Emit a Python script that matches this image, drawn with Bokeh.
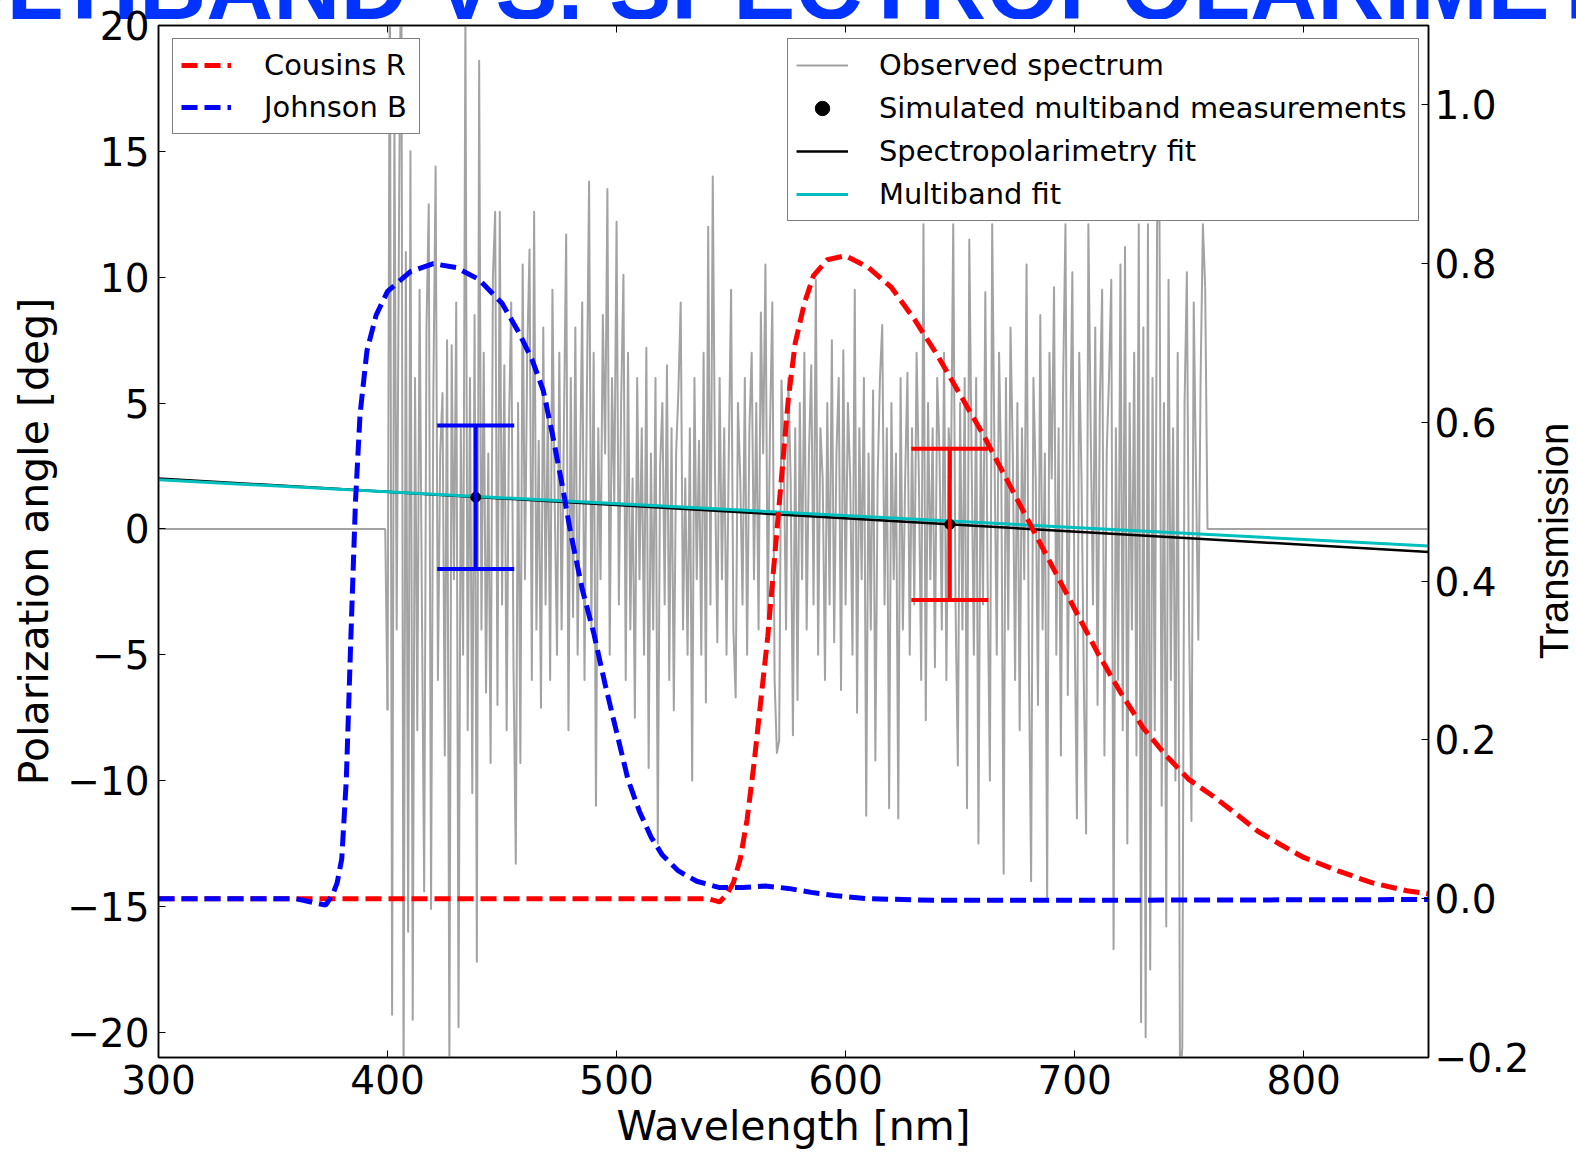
import math
from bokeh.plotting import figure
from bokeh.layouts import column, row
from bokeh.models import (Range1d, LinearAxis, FixedTicker, CustomJSTickFormatter,
                          Legend, LegendItem, Div)
from bokeh.embed import file_html
from bokeh.resources import INLINE

FONT = "DejaVu Sans"

# ---------------- data ----------------
x_ticks = [300, 400, 500, 600, 700, 800]
pa_ticks = [-20, -15, -10, -5, 0, 5, 10, 15, 20]
tr_ticks = [-0.2, 0.0, 0.2, 0.4, 0.6, 0.8, 1.0]

# observed polarization angle spectrum, 1 nm steps starting at 400 nm
obs_start = 400
obs_pa = [
    -7.2, 23.0, -19.3, 16.5, -4.0, 12.0, 25.0, -22.5, 11.0, -16.0,
    15.0, -19.5, 6.0, -8.0, 9.5, -3.0, -14.4, 8.0, 12.9, -15.1,
    5.4, 14.4, -6.0, 3.0, 5.4, -9.0, 7.5, -21.5, 7.3, -2.0,
    9.0, -19.8, 4.0, -5.0, 20.5, -8.0, 6.0, -10.5, 8.5, -17.2,
    18.6, -4.0, 7.0, -6.5, 3.0, -9.3, 10.0, 12.6, -7.0, 12.6,
    -3.0, 6.5, -8.0, 4.0, 9.0, -5.5, -13.3, 5.0, -9.3, 10.5,
    -2.0, 7.0, 11.1, -6.0, 12.6, -4.0, 3.5, -7.1, 8.0, -3.0,
    5.0, -6.0, 9.5, 1.0, -5.0, 7.0, -4.0, 4.0, 11.7, -8.0,
    6.0, -3.5, 8.0, -5.0, 2.0, 9.0, -6.0, 5.0, 13.8, -4.0,
    7.0, -11.0, 4.0, -2.0, 8.5, 3.0, 13.5, -5.0, 6.0, 1.0,
    12.2, -3.0, 5.0, 10.1, -6.0, 7.0, -4.0, 2.0, -7.5, 6.0,
    -2.0, 4.0, -5.0, 7.2, -9.5, 3.0, -4.0, 6.0, -12.5, 2.5,
    5.0, -3.0, 6.5, -6.0, 4.0, -7.2, 3.0, 5.5, 9.0, -4.0,
    2.0, -5.0, 4.0, -10.0, 6.0, -2.0, 3.5, -5.0, 7.0, -6.9,
    12.0, -3.0, 14.0, 2.0, -4.5, 6.0, -2.0, 4.0, -5.0, 3.0,
    9.5, -4.0, -6.7, 5.0, 2.0, -3.0, 6.0, -5.0, 4.0, 7.0,
    -2.0, 5.0, -4.0, 8.6, 3.0, 10.5, -3.5, 4.0, 9.0, -6.0,
    -8.9, -8.4, 5.9, 3.0, -4.0, 6.0, 2.0, -8.2, 4.0, -6.8,
    5.0, -2.0, 7.0, -4.0, 3.0, 6.5, -3.0, 9.9, -5.0, 4.0,
    2.0, -6.0, 5.0, -3.0, 7.5, -4.5, 3.0, 6.0, -6.4, 7.1,
    -3.0, 5.0, 2.0, -5.0, 9.5, -7.3, 4.0, -2.0, 6.0, -11.4,
    3.0, -4.0, 5.5, -9.2, 2.0, 6.0, 8.1, -3.0, 4.0, -11.1,
    5.0, -2.0, 3.0, -11.5, 6.0, -4.0, 2.0, 6.2, -5.0, 4.0,
    -3.0, 7.0, 2.0, -6.0, 12.1, -7.6, 5.0, -2.0, 4.0, -5.5,
    6.0, 3.0, -4.0, 7.0, -6.0, 4.0, 2.0, 12.1, -3.0, -9.4,
    5.0, -4.0, 6.0, -11.1, 11.5, 3.0, -5.0, 6.0, -12.5, 4.0,
    -3.0, 9.4, -2.0, -10.0, 12.1, 3.0, -5.0, 7.0, 2.0, -13.7,
    6.0, -4.0, 8.0, 3.0, -6.0, 5.0, -8.0, 4.0, -2.0, 10.5,
    -5.0, -14.0, 6.0, 2.0, -7.0, 8.5, -4.0, 3.0, -14.8, 7.0,
    2.0, 9.6, -5.0, 4.0, -9.0, 6.0, 12.1, -6.6, 3.0, 10.2,
    -4.0, -11.5, 7.0, 2.0, -6.0, -12.1, 12.1, 4.0, -3.0, 8.0,
    -7.0, 5.0, 9.5, -9.0, 3.0, 6.0, 9.9, -16.7, 4.0, -6.0,
    10.5, -8.0, 11.2, -12.5, 5.0, -4.0, 7.0, -9.0, 12.1, -19.6,
    8.0, -20.2, 12.1, -17.5, 6.0, -8.0, 12.1, 13.5, -11.0, 5.0,
    -15.8, 9.9, -6.0, 4.0, -10.0, 7.0, -22.0, -20.6, 5.0, 10.2,
    -4.0, -11.6, 9.0, 2.0, -4.4, 6.0, 12.1, 9.6,
]
obs_wl = [obs_start + i for i in range(len(obs_pa))]
# flat (zero) parts of the observed spectrum outside the covered range
blank_left_wl = [300, 399]
blank_right_wl = [758, 855]
blank_pa = [0.0, 0.0]

# linear fits
fit_wl = [300, 855]
spec_fit_pa = [2.0, -0.92]
mb_fit_pa = [1.95, -0.68]

# simulated multiband measurements
meas_band = ["Johnson B", "Cousins R"]
meas_wl = [438.5, 645.5]
meas_pa = [1.26, 0.18]
meas_err = [2.85, 3.0]

# filter transmission curves
rband_wl = [300, 540, 545, 548, 551, 554, 557, 560, 563, 566, 569, 572, 575, 578, 582,
            586, 592, 600, 610, 620, 630, 640, 650, 660, 670, 680, 690, 700, 710, 720,
            730, 740, 750, 760, 770, 780, 790, 800, 815, 830, 845, 855]
rband_t = [0.0, 0.0, -0.004, 0.005, 0.02, 0.05, 0.10, 0.17, 0.25, 0.33, 0.43, 0.53, 0.63,
           0.70, 0.75, 0.785, 0.805, 0.81, 0.795, 0.77, 0.73, 0.685, 0.635, 0.585, 0.53,
           0.475, 0.42, 0.365, 0.31, 0.26, 0.215, 0.18, 0.15, 0.13, 0.108, 0.085, 0.068,
           0.052, 0.035, 0.02, 0.01, 0.006]
bband_wl = [300, 360, 368, 373, 376, 378, 380, 382, 384, 386, 388, 391, 395, 400, 410,
            420, 430, 440, 450, 457, 463, 468, 472, 476, 480, 485, 490, 495, 500, 505,
            510, 515, 520, 527, 535, 545, 555, 565, 575, 585, 595, 610, 640, 700, 855]
bband_t = [0.0, 0.0, -0.005, -0.008, 0.005, 0.02, 0.05, 0.15, 0.33, 0.50, 0.61, 0.69,
           0.735, 0.765, 0.79, 0.80, 0.795, 0.78, 0.75, 0.715, 0.68, 0.64, 0.585, 0.525,
           0.46, 0.39, 0.335, 0.27, 0.21, 0.15, 0.11, 0.078, 0.055, 0.035, 0.022, 0.014,
           0.014, 0.016, 0.013, 0.008, 0.004, 0.0, -0.002, -0.002, -0.001]

title_text = "MULTIBAND VS. SPECTROPOLARIMETRY"
right_label = "Transmission"

# ---------------- styles / layout ----------------
band_color = {"Johnson B": "#0000ff", "Cousins R": "#ff0000"}
GRAY = "#a3a3a3"
CYAN = "#00bfbf"

PAGE_W, PAGE_H = 1576, 1152
TITLE_H = 19
SIDE_W = 40
B_LEFT, B_RIGHT, B_TOP, B_BOTTOM = 158, 108, 25, 95
FIG_W = PAGE_W - SIDE_W
FIG_H = PAGE_H
FRAME_H = FIG_H - B_TOP - B_BOTTOM

p = figure(width=FIG_W, height=FIG_H,
           x_range=Range1d(300, 854.5), y_range=Range1d(-21, 20),
           output_backend="svg", toolbar_location=None,
           min_border_left=B_LEFT, min_border_right=B_RIGHT,
           min_border_top=B_TOP, min_border_bottom=B_BOTTOM,
           background_fill_color="white", border_fill_color=None)
p.extra_y_ranges = {"tr": Range1d(-0.2, 1.1)}
p.xgrid.visible = False
p.ygrid.visible = False
p.outline_line_color = "black"
p.outline_line_width = 1.5


def style_axis(ax, ticks):
    ax.ticker = FixedTicker(ticks=ticks)
    ax.minor_tick_line_color = None
    ax.major_tick_in = 7
    ax.major_tick_out = 0
    ax.major_tick_line_color = "black"
    ax.major_tick_line_width = 1
    ax.axis_line_color = "black"
    ax.axis_line_width = 1.5
    ax.major_label_text_font = FONT
    ax.major_label_text_font_size = "39px"
    ax.major_label_text_color = "black"
    ax.axis_label_text_font = FONT
    ax.axis_label_text_font_size = "41px"
    ax.axis_label_text_font_style = "normal"
    ax.axis_label_text_color = "black"


xax = p.xaxis[0]
style_axis(xax, x_ticks)
xax.axis_label = "Wavelength [nm]"
xax.major_label_standoff = 7
xax.axis_label_standoff = 5

yax = p.yaxis[0]
style_axis(yax, pa_ticks)
yax.axis_label = "Polarization angle [deg]"
yax.major_label_standoff = 9
yax.axis_label_standoff = 6
yax.formatter = CustomJSTickFormatter(
    code="return (tick < 0 ? '\\u2212' : '') + Math.abs(tick).toFixed(0);")

rax = LinearAxis(y_range_name="tr")
style_axis(rax, tr_ticks)
rax.major_label_standoff = 6
rax.formatter = CustomJSTickFormatter(
    code="return (tick < -1e-9 ? '\\u2212' : '') + Math.abs(tick).toFixed(1);")
p.add_layout(rax, "right")

tax = LinearAxis()
style_axis(tax, x_ticks)
tax.formatter = CustomJSTickFormatter(code="return '';")
tax.major_label_text_font_size = "1px"
tax.major_label_standoff = 0
p.add_layout(tax, "above")

# ---------------- glyphs ----------------
r_obs = p.line(obs_wl, obs_pa, line_color=GRAY, line_width=2.0, line_join="round")
p.line(blank_left_wl + [obs_wl[0]], blank_pa + [obs_pa[0]], line_color=GRAY, line_width=2.0)
p.line([obs_wl[-1]] + blank_right_wl, [obs_pa[-1]] + blank_pa, line_color=GRAY, line_width=2.0)

r_sp = p.line(fit_wl, spec_fit_pa, line_color="black", line_width=2.5)
r_mb = p.line(fit_wl, mb_fit_pa, line_color=CYAN, line_width=3)

r_dots = p.scatter(x=meas_wl, y=meas_pa, marker="circle", size=10,
                   fill_color="black", line_color="black")
for band, wl, pa, err in zip(meas_band, meas_wl, meas_pa, meas_err):
    c = band_color[band]
    p.segment(x0=[wl], y0=[pa - err], x1=[wl], y1=[pa + err], line_color=c, line_width=4)
    p.scatter(x=[wl, wl], y=[pa - err, pa + err], marker="dash", size=77,
              line_color=c, line_width=4)

r_R = p.line(rband_wl, rband_t, y_range_name="tr", line_color=band_color["Cousins R"],
             line_width=5, line_dash="16 7")
r_B = p.line(bband_wl, bband_t, y_range_name="tr", line_color=band_color["Johnson B"],
             line_width=5, line_dash="16 7")


# ---------------- legends ----------------
def make_legend(items, x, top_offset, rows, spacing, glyph_w, standoff, label_w):
    pad = 8
    row_h = 36
    h = 2 * pad + rows * row_h + (rows - 1) * spacing
    return Legend(items=items, location=(x, FRAME_H - top_offset - h),
                  label_text_font=FONT, label_text_font_size="28.9px",
                  label_text_color="black", label_width=label_w,
                  label_height=row_h, glyph_height=row_h, glyph_width=glyph_w,
                  label_standoff=standoff, padding=pad, spacing=spacing, margin=0,
                  border_line_color="black", border_line_width=1.5,
                  background_fill_color="white", background_fill_alpha=1.0)


leg_left = make_legend([LegendItem(label="Cousins R", renderers=[r_R]),
                        LegendItem(label="Johnson B", renderers=[r_B])],
                       14, 15, 2, 6, 50, 33, 147)
leg_right = make_legend([LegendItem(label="Observed spectrum", renderers=[r_obs]),
                         LegendItem(label="Simulated multiband measurements", renderers=[r_dots]),
                         LegendItem(label="Spectropolarimetry fit", renderers=[r_sp]),
                         LegendItem(label="Multiband fit", renderers=[r_mb])],
                        629, 15, 4, 7, 52, 31, 531)
p.add_layout(leg_left)
p.add_layout(leg_right)

# ---------------- cropped banner title (overlaps the transparent top border) ----------------
title_div = Div(
    text=(f'<svg width="{PAGE_W}" height="{TITLE_H}" style="display:block">'
          f'<text x="797" y="18.5" text-anchor="middle" font-family="DejaVu Sans" '
          f'font-weight="bold" font-size="93" fill="#0033ff">{title_text}</text></svg>'),
    width=PAGE_W, height=TITLE_H, margin=(0, 0, -TITLE_H, 0))

# ---------------- right-hand axis title (reads bottom to top) ----------------
side_div = Div(
    text=(f'<svg width="{SIDE_W}" height="{FIG_H}" style="display:block">'
          f'<text transform="translate(32,{B_TOP + FRAME_H / 2:.1f}) rotate(-90)" '
          f'text-anchor="middle" font-family="DejaVu Sans" font-size="40" '
          f'fill="black">{right_label}</text></svg>'),
    width=SIDE_W, height=FIG_H, margin=0)

layout = column(title_div, row(p, side_div, spacing=0), spacing=0)
open("out.html", "w").write(file_html(layout, INLINE))
